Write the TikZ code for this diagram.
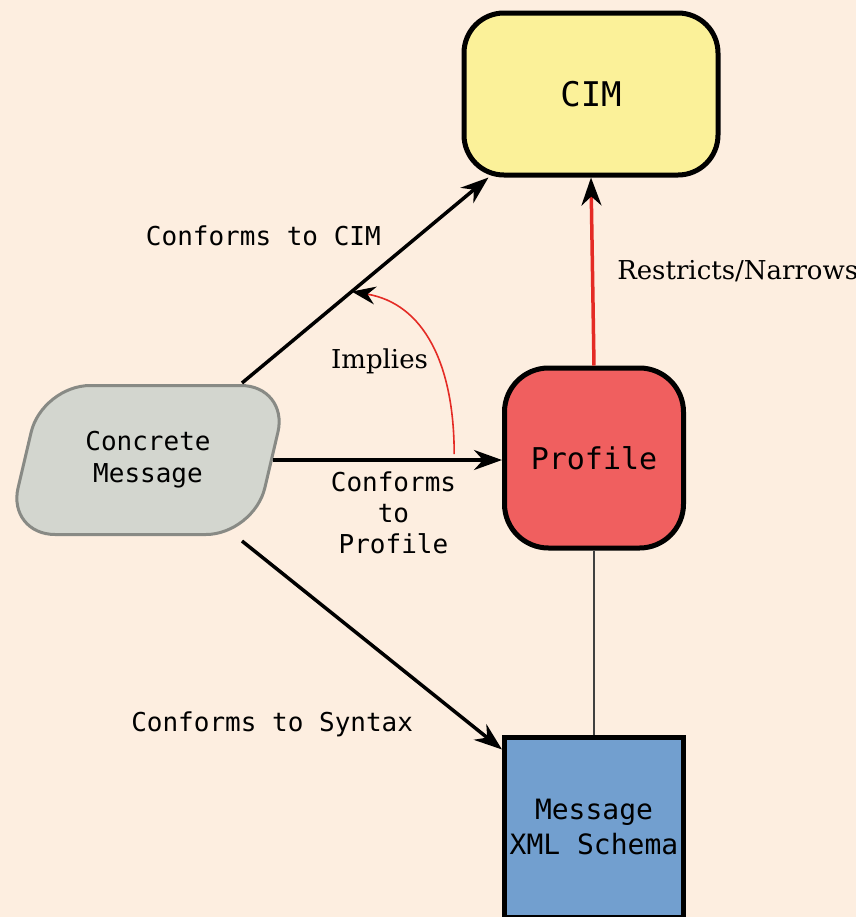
\documentclass[tikz,border=0pt]{standalone}
\usepackage{fontspec}
\usepackage{tikz}
\usetikzlibrary{shapes.geometric,arrows.meta,calc}
\newfontfamily\monofont{DejaVu Sans Mono}
\newfontfamily\seriffont{DejaVu Serif}
\definecolor{bgpeach}{HTML}{FDEEE0}
\definecolor{cimyellow}{HTML}{FBF199}
\definecolor{profred}{HTML}{F05F5F}
\definecolor{xsdblue}{HTML}{729FCF}
\definecolor{msggray}{HTML}{D3D6CF}
\definecolor{msgedge}{HTML}{888A85}
\definecolor{restrictred}{HTML}{E42B25}
\tikzset{
  box/.style={draw=black, line width=2.5pt, align=center, inner sep=0pt},
  lbl/.style={font=\monofont\fontsize{13}{15.5}\selectfont, inner sep=0pt, align=center},
  serlbl/.style={font=\seriffont\fontsize{13}{15.5}\selectfont, inner sep=0pt},
  conn/.style={line width=1.75pt, -{Stealth[length=14pt, width=10pt, inset=4.5pt, color=black]}}
}

\begin{document}
\begin{tikzpicture}[x=0.5pt, y=-0.5pt]
    \fill [bgpeach] (0,0) rectangle (856,917);
    \useasboundingbox (0,0) rectangle (856,917);

    % boxes
    \node [box, fill=cimyellow, rounded corners=20pt, minimum width=127pt, minimum height=81pt,
           font=\monofont\fontsize{17}{20}\selectfont] (cim) at (591,94) {CIM};
    \node [box, fill=profred, rounded corners=22pt, minimum width=89.5pt, minimum height=90pt,
           font=\monofont\fontsize{15}{18}\selectfont] (profile) at (594,458) {Profile};
    \node [box, fill=xsdblue, minimum width=89.5pt, minimum height=90pt,
           font=\monofont\fontsize{14}{17.5}\selectfont] (schema) at (594,827) {Message\\XML Schema};
    \node [trapezium, trapezium left angle=70, trapezium right angle=110, trapezium stretches=true,
           draw=msgedge, fill=msggray, line width=1.5pt, rounded corners=24pt,
           minimum width=141pt, minimum height=74.5pt, align=center, inner sep=0pt,
           font=\monofont\fontsize{13}{16}\selectfont] (msg) at (148,460) {Concrete\\Message};

    % connectors
    \draw [conn] ($(msg.north)+(94,-1)$) -- ($(cim.south west)+(27,0)$)
      coordinate [pos=0.445] (impend)
      node [lbl, pos=0.57, anchor=south east, yshift=9pt] (lcim) {Conforms to CIM};
    \draw [conn] (msg.east) -- (msg.east -| profile.west)
      coordinate [pos=0.8] (impstart)
      node [lbl, midway, below=5pt, xshift=3pt] (lprof) {Conforms\\to\\Profile};
    \draw [conn] ($(msg.south)+(94,5)$) -- ($(schema.north west)+(0,15)$)
      node [lbl, pos=0.88, anchor=east, xshift=-28pt] (lsyn) {Conforms to Syntax};
    \draw [conn, restrictred] (profile.north) -- (cim.south)
      node [serlbl, midway, anchor=west, xshift=11.5pt, black] (lres) {Restricts/Narrows};
    \draw [line width=0.9pt, black!75] (profile.south) -- (schema.north);

    \draw [restrictred, line width=0.8pt, -{Stealth[length=12pt, width=9pt, inset=4pt, color=black]}]
      ($(impstart)+(-2,-6)$) .. controls +(0,-90) and +(72,12) .. (impend)
      node [serlbl, pos=0.4, anchor=east, xshift=-5pt, black] (limp) {Implies};
\end{tikzpicture}
\end{document}
